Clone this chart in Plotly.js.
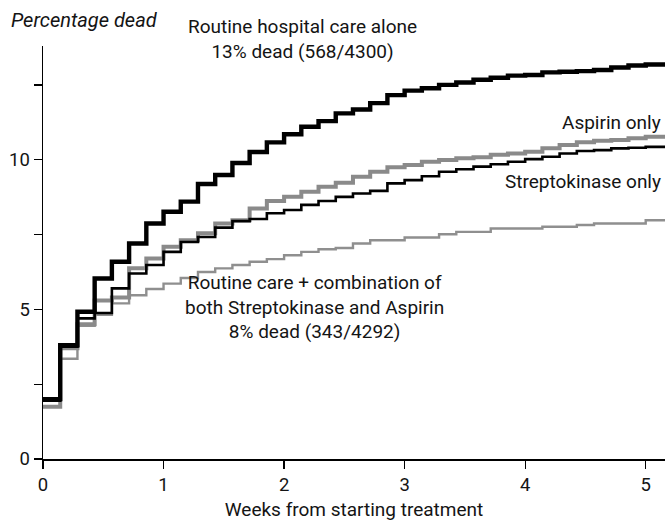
<!DOCTYPE html>
<html>
<head>
<meta charset="utf-8">
<script src="https://cdn.plot.ly/plotly-3.0.1.min.js"></script>
<style>html,body{margin:0;padding:0;background:#fff;}#chart{width:665px;height:524px;}</style>
</head>
<body>
<div id="chart"></div>
<script>
// Day index of each step (x axis is in weeks = day / 7)
const days = [0,1,2,3,4,5,6,7,8,9,10,11,12,13,14,15,16,17,18,19,20,21,22,23,24,25,26,27,28,29,30,31,32,33,34,35];
const xEnd = 5.16; // right end of the curves (weeks)

const routine = [2.0,3.8,4.92,6.03,6.59,7.2,7.87,8.26,8.6,9.19,9.49,9.89,10.26,10.58,10.85,11.1,11.29,11.55,11.68,11.89,12.16,12.31,12.39,12.5,12.58,12.67,12.74,12.81,12.83,12.92,12.94,12.96,13.0,13.08,13.15,13.18];
const aspirin = [1.75,3.7,4.5,5.3,5.4,6.37,6.7,7.09,7.31,7.54,7.87,7.98,8.37,8.62,8.76,8.93,9.1,9.23,9.43,9.6,9.75,9.82,9.93,9.99,10.05,10.08,10.17,10.21,10.27,10.38,10.49,10.58,10.63,10.66,10.72,10.77];
const strepto = [1.95,3.75,4.7,4.88,5.7,6.2,6.48,6.92,7.25,7.42,7.73,7.95,8.02,8.21,8.32,8.49,8.62,8.76,8.87,8.96,9.21,9.32,9.45,9.6,9.68,9.77,9.85,9.93,10.02,10.1,10.21,10.29,10.32,10.38,10.4,10.43];
const combo = [1.75,3.35,4.45,4.82,5.2,5.47,5.68,5.86,6.05,6.25,6.37,6.48,6.59,6.68,6.81,6.92,7.01,7.05,7.2,7.31,7.31,7.4,7.4,7.51,7.59,7.59,7.7,7.7,7.7,7.76,7.76,7.82,7.87,7.87,7.87,7.98];

const yTickVals = [0,2.5,5,7.5,10,12.5];
const yTickText = ['0','','5','','10',''];
const xTickVals = [0,1,2,3,4,5];

const weeks = days.map(d => d / 7).concat([xEnd]);
const ext = arr => arr.concat([arr[arr.length - 1]]);

const FONT = 'Roboto, "Liberation Sans", sans-serif';
const TXT = '#141414';

function trace(y, color, width) {
  return {x: weeks, y: ext(y), type: 'scatter', mode: 'lines',
          line: {shape: 'hv', color: color, width: width}, hoverinfo: 'skip'};
}

const data = [
  trace(combo, '#8f8f8f', 2.4),
  trace(aspirin, '#8a8a8a', 4),
  trace(strepto, '#000000', 2.6),
  trace(routine, '#000000', 4.4)
];

const layout = {
  width: 665, height: 524,
  margin: {l: 43, r: 0, t: 46, b: 65},
  paper_bgcolor: '#fff', plot_bgcolor: '#fff',
  showlegend: false,
  font: {family: FONT, size: 19, color: TXT},
  xaxis: {
    range: [0, xEnd], tickvals: xTickVals, ticks: 'outside', ticklen: 8, tickwidth: 1.3,
    tickcolor: '#000', showline: true, linecolor: '#000', linewidth: 1.5,
    showgrid: false, zeroline: false, fixedrange: true,
    tickfont: {family: FONT, size: 18.5, color: TXT},
    title: {text: 'Weeks from starting treatment', font: {family: FONT, size: 19, color: TXT}, standoff: 8}
  },
  yaxis: {
    range: [0, 13.8], tickvals: yTickVals, ticktext: yTickText, ticks: 'outside', ticklen: 8, tickwidth: 1.3,
    tickcolor: '#000', showline: true, linecolor: '#000', linewidth: 1.5,
    showgrid: false, zeroline: false, fixedrange: true,
    tickfont: {family: FONT, size: 18.5, color: TXT}
  },
  annotations: [
    {xref: 'paper', yref: 'paper', x: -0.055, y: 1.063, xanchor: 'left', yanchor: 'middle',
     text: '<i>Percentage dead</i>', showarrow: false, font: {family: FONT, size: 20, color: TXT}},
    {xref: 'paper', yref: 'paper', x: 0.417, y: 1.018, xanchor: 'center', yanchor: 'middle', showarrow: false,
     text: 'Routine hospital care alone<br>13% dead (568/4300)', font: {family: FONT, size: 19, color: TXT}},
    {x: 5.145, y: 11.25, xanchor: 'right', yanchor: 'middle', showarrow: false,
     text: 'Aspirin only', font: {family: FONT, size: 19, color: TXT}},
    {x: 5.145, y: 9.27, xanchor: 'right', yanchor: 'middle', showarrow: false,
     text: 'Streptokinase only', font: {family: FONT, size: 19, color: TXT}},
    {x: 2.25, y: 5.07, xanchor: 'center', yanchor: 'middle', showarrow: false,
     text: 'Routine care + combination of<br>both Streptokinase and Aspirin<br>8% dead (343/4292)', font: {family: FONT, size: 19, color: TXT}}
  ]
};

Plotly.newPlot('chart', data, layout, {staticPlot: true, displayModeBar: false});
</script>
</body>
</html>
